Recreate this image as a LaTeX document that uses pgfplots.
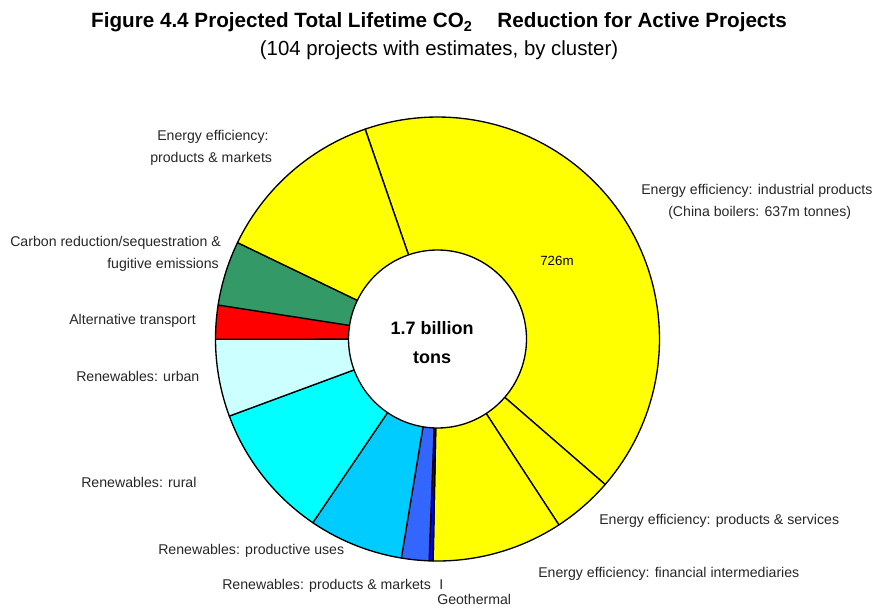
\documentclass[border=0pt]{standalone}
\usepackage{pgfplots}
\pgfplotsset{compat=1.18}
\usepackage{pgfplotstable}
\usepackage{fontspec}
\setmainfont{Liberation Sans}
\definecolor{eeyellow}{HTML}{FFFF00}
\definecolor{carbongreen}{HTML}{339966}
\definecolor{altred}{HTML}{FF0000}
\definecolor{urbancyan}{HTML}{CCFFFF}
\definecolor{ruralcyan}{HTML}{00FFFF}
\definecolor{prodblue}{HTML}{00CCFF}
\definecolor{rpmblue}{HTML}{3366FF}
\definecolor{geoblue}{HTML}{0000FF}

% lifetime CO2 reduction, million tonnes, clockwise from the top
\pgfplotstableread{
value colour
726 eeyellow
77  eeyellow
166 eeyellow
5   geoblue
35  rpmblue
120 prodblue
172 ruralcyan
98  urbancyan
43  altred
82  carbongreen
219 eeyellow
}\slices

\newcommand\cx{437.5}
\newcommand\cy{269}
\newcommand\Rout{222}
\newcommand\Rin{89}
\newcommand\startangle{109}

\tikzset{lab/.style={font=\fontsize{10.6}{12}\selectfont, text=black!85, inner sep=0pt, anchor=mid west}}

\begin{document}
\begin{tikzpicture}
\pgfplotstablegetrowsof{\slices}
\pgfmathtruncatemacro\nrows{\pgfplotsretval-1}
\def\total{0}
\pgfplotsforeachungrouped \i in {0,...,\nrows}{%
  \pgfplotstablegetelem{\i}{value}\of\slices
  \pgfmathsetmacro\total{\total+\pgfplotsretval}%
}
\begin{axis}[scale only axis, width=654.75pt, height=456pt,
  xmin=0, xmax=873, ymin=0, ymax=608, hide axis, clip=false]
\def\angA{\startangle}
\pgfplotsforeachungrouped \i in {0,...,\nrows}{%
  \pgfplotstablegetelem{\i}{value}\of\slices
  \pgfmathsetmacro\angB{\angA-\pgfplotsretval/\total*360}%
  \pgfplotstablegetelem{\i}{colour}\of\slices
  \edef\cmd{\noexpand\addplot[fill=\pgfplotsretval, draw=black, line width=1pt, line join=round, domain=\angB:\angA, samples=80] ({\cx+\Rout*cos(x)},{\cy+\Rout*sin(x)}) -- (\cx,\cy) -- cycle;}%
  \cmd
  \let\angA\angB
}
\addplot[fill=white, draw=black, line width=1pt, domain=0:360, samples=150] ({\cx+\Rin*cos(x)},{\cy+\Rin*sin(x)}) -- cycle;

\node[font=\bfseries\fontsize{15.5}{18}\selectfont, anchor=mid] at (axis cs:439,584) {Figure 4.4 Projected Total Lifetime CO\textsubscript{2}\hspace{1.2em}Reduction for Active Projects};
\node[font=\fontsize{15.3}{18}\selectfont, anchor=mid] at (axis cs:439,556) {(104 projects with estimates, by cluster)};

\node[font=\bfseries\fontsize{13.5}{16}\selectfont, anchor=mid] at (axis cs:432,277) {1.7 billion};
\node[font=\bfseries\fontsize{13.5}{16}\selectfont, anchor=mid] at (axis cs:432,248) {tons};
\node[font=\fontsize{10}{12}\selectfont, anchor=mid] at (axis cs:557,346) {726m};

\node[lab] at (axis cs:157,471) {Energy efficiency:};
\node[lab] at (axis cs:150,449) {products \& markets};
\node[lab] at (axis cs:641,417) {Energy efficiency: industrial products};
\node[lab] at (axis cs:668,395) {(China boilers: 637m tonnes)};
\node[lab] at (axis cs:10,365) {Carbon reduction/sequestration \&};
\node[lab] at (axis cs:107,343) {fugitive emissions};
\node[lab] at (axis cs:69,287) {Alternative transport};
\node[lab] at (axis cs:76,230) {Renewables: urban};
\node[lab] at (axis cs:81,124) {Renewables: rural};
\node[lab] at (axis cs:158,57) {Renewables: productive uses};
\node[lab] at (axis cs:222,22) {Renewables: products \& markets\hspace{0.6em}I};
\node[lab] at (axis cs:437,7) {Geothermal};
\node[lab] at (axis cs:599,87) {Energy efficiency: products \& services};
\node[lab] at (axis cs:538,34) {Energy efficiency: financial intermediaries};
\end{axis}
\pgfresetboundingbox
\path (current axis.south west) rectangle (current axis.north east);
\end{tikzpicture}
\end{document}
